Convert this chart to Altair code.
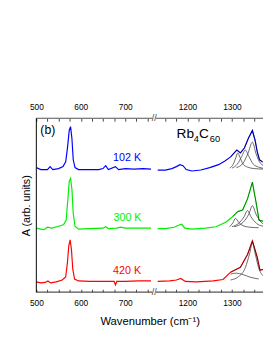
import altair as alt
import pandas as pd

# ---------------- data ----------------
# wavenumbers (cm^-1) and absorbance (arb. units, vertical offsets included)
blue_l_w = [500, 510, 525, 531, 537, 550, 560, 566, 570, 574, 577, 580, 583, 587, 595, 620, 640, 650, 656, 662, 678, 685, 700, 720, 740, 758]
blue_l_a = [127.5, 125.5, 125.5, 128.5, 125.5, 126.5, 128.5, 133.5, 147.5, 165.5, 169.5, 157.5, 135.5, 127.5, 125.5, 125.5, 125.5, 126.5, 129.5, 125.5, 128.5, 125.5, 126.5, 126, 126.5, 126]
blue_r_w = [1133, 1150, 1165, 1175, 1183, 1190, 1197, 1210, 1230, 1250, 1270, 1285, 1297, 1305, 1311, 1319, 1328, 1337, 1346, 1352, 1357, 1362, 1368, 1375, 1390, 1405]
blue_r_a = [125, 125, 126.5, 128.5, 130.5, 129.5, 125.5, 124, 125, 127.5, 130.5, 134.5, 138.5, 142.5, 145.5, 142.5, 147.5, 157.5, 165.5, 155.5, 143.5, 135.5, 133.5, 133, 131.5, 130.5]

green_l_w = [500, 510, 517, 525, 535, 550, 561, 567, 571, 574, 577, 580, 583, 587, 595, 620, 650, 656, 662, 680, 690, 700, 730, 758]
green_l_a = [65.5, 64.5, 64, 66.5, 65.5, 67.5, 69, 73.5, 95.5, 113.5, 116.5, 105.5, 80.5, 67.5, 64.5, 65, 65.5, 67, 65, 65.5, 66.5, 65.5, 65.5, 65.5]
green_r_w = [1133, 1150, 1170, 1180, 1187, 1194, 1210, 1240, 1264, 1286, 1302, 1313, 1324, 1335, 1346, 1354, 1361, 1372, 1390, 1405]
green_r_a = [65, 65, 66.5, 68.5, 69.5, 65.5, 64.5, 65.5, 67, 71.5, 77.5, 82.5, 84, 95.5, 112.5, 92.5, 73.5, 72.5, 70.5, 69.5]

red_l_w = [500, 510, 520, 526, 532, 545, 558, 566, 570, 573, 576, 579, 582, 586, 595, 620, 650, 675, 678, 681, 700, 730, 758]
red_l_a = [10.5, 9.5, 10, 11.5, 9.5, 10.5, 12.5, 15.5, 30.5, 47.5, 53.5, 43.5, 23.5, 13.5, 11.5, 11, 11, 11, 7.5, 11, 11, 11.5, 11.5]
red_r_w = [1133, 1160, 1175, 1185, 1195, 1220, 1258, 1280, 1297, 1319, 1335, 1346, 1357, 1363, 1372, 1390, 1405]
red_r_a = [11, 11.5, 12.5, 14, 11, 10.5, 11.5, 13, 20.5, 25.5, 38.5, 52.5, 35.5, 22.5, 23.5, 20.5, 18.5]

# fitted components (thin dark lines)
comp = {
    "b1": ([1295, 1303, 1309, 1313, 1318, 1325, 1335, 1350, 1370], [127, 131, 138, 142.5, 138, 131, 128, 126.5, 126]),
    "b2": ([1300, 1312, 1322, 1330, 1338, 1348, 1360, 1375], [127, 131, 139, 145.5, 139, 131, 128, 126.5]),
    "b3": ([1310, 1325, 1336, 1346, 1354, 1364, 1380], [127.5, 132, 142, 153.5, 142, 132, 128]),
    "g1": ([1295, 1302, 1308, 1315, 1325, 1340, 1360], [67, 71, 75.5, 71.5, 68, 66.5, 66]),
    "g2": ([1300, 1315, 1327, 1335, 1343, 1355, 1370], [67, 70.5, 77, 83.5, 77, 70.5, 67.5]),
    "g3": ([1305, 1325, 1338, 1346, 1354, 1366, 1380], [67, 71.5, 80, 88.5, 80, 71.5, 68]),
    "r1": ([1297, 1310, 1325, 1340, 1360], [18.5, 19.5, 18, 15.5, 13.5]),
    "r2": ([1297, 1315, 1330, 1340, 1346, 1352, 1360, 1372], [12.5, 16, 25, 40, 50.5, 40, 25, 16]),
}

temps = ["102 K", "300 K", "420 K"]
colors = ["#0000FF", "#00EE00", "#FF0000"]
label_w = [704, 705, 704]
label_a = [137.5, 75.5, 22]

major_ticks = [500, 600, 700, 1200, 1300]
minor_ticks = [525, 550, 575, 625, 650, 675, 725, 750, 1150, 1175, 1225, 1250, 1275, 1325, 1350]

# ---------------- broken axis mapping ----------------
BREAK_LO, BREAK_HI, GAP = 760, 1130, 10
SHIFT = BREAK_HI - BREAK_LO - GAP  # 360


def to_p(w):
    return w if w <= BREAK_LO else w - SHIFT


rows = []
series = [
    ("102 K", blue_l_w, blue_l_a, blue_r_w, blue_r_a),
    ("300 K", green_l_w, green_l_a, green_r_w, green_r_a),
    ("420 K", red_l_w, red_l_a, red_r_w, red_r_a),
]
for t, lw, la, rw, ra in series:
    for w, a in zip(lw, la):
        rows.append({"p": to_p(w), "a": a, "T": t, "g": t + "L", "w": w})
    for w, a in zip(rw, ra):
        rows.append({"p": to_p(w), "a": a, "T": t, "g": t + "R", "w": w})
df = pd.DataFrame(rows)

crow = []
for k, (ws, As) in comp.items():
    for w, a in zip(ws, As):
        crow.append({"p": to_p(w), "a": a, "c": k})
dfc = pd.DataFrame(crow)

dfl = pd.DataFrame({"p": [to_p(w) for w in label_w], "a": label_a, "T": temps})

# plot area: left edge at page x 39.5, right edge at the window edge
W, H = 232, 178
PX_PER_UNIT = 0.455
XMAX = 500 + W / PX_PER_UNIT
FONT = "Liberation Sans"

tick_vals = sorted(to_p(v) for v in major_ticks + minor_ticks)
major_p = [to_p(v) for v in major_ticks]
label_expr = (
    "indexof(" + str(major_p) + ", datum.value) >= 0 ? "
    "(datum.value > " + str(BREAK_LO) + " ? format(datum.value + " + str(SHIFT) + ", 'd') : format(datum.value, 'd')) : ''"
)

xscale = alt.Scale(domain=[500, XMAX], nice=False, zero=False)
yscale = alt.Scale(domain=[0, H], nice=False, zero=False)
cscale = alt.Scale(domain=temps, range=colors)


def xaxis(orient, title):
    kw = dict(
        orient=orient, values=tick_vals, labelExpr=label_expr, tickSize=3, offset=-3,
        domain=False, grid=False, labelPadding=7, labelFontSize=8.5, labelFont=FONT,
        labelColor="black", tickColor="#444", labelOverlap=False, labelFlush=False,
    )
    if title:
        kw.update(title=title, titleFont=FONT, titleFontSize=11.5, titleFontWeight="normal",
                  titlePadding=9, titleColor="black")
    else:
        kw.update(title=None)
    return alt.Axis(**kw)


traces = alt.Chart(df).mark_line(strokeWidth=1.2, clip=True).encode(
    x=alt.X("p:Q", scale=xscale, axis=xaxis("bottom", "Wavenumber (cm\u207b\u00b9)")),
    y=alt.Y("a:Q", scale=yscale, axis=alt.Axis(title="A (arb. units)", labels=False, ticks=False,
                                                domain=False, grid=False, titleFont=FONT,
                                                titleFontSize=11, titleFontWeight="normal",
                                                titlePadding=5, titleColor="black")),
    color=alt.Color("T:N", scale=cscale, legend=None),
    detail="g:N",
)

comps = alt.Chart(dfc).mark_line(strokeWidth=0.8, color="#444", interpolate="monotone", clip=True).encode(
    x=alt.X("p:Q", scale=xscale, axis=None),
    y=alt.Y("a:Q", scale=yscale, axis=None),
    detail="c:N",
)

sums = alt.Chart(df).transform_filter("datum.w >= 1297 && datum.w <= 1372").mark_line(
    strokeWidth=0.8, color="black", opacity=0.55, clip=True
).encode(
    x=alt.X("p:Q", scale=xscale, axis=xaxis("top", None)),
    y=alt.Y("a:Q", scale=yscale, axis=None),
    detail="g:N",
)

labels = alt.Chart(dfl).mark_text(fontSize=11, font=FONT, align="center", baseline="middle").encode(
    x=alt.X("p:Q", scale=xscale, axis=None),
    y=alt.Y("a:Q", scale=yscale, axis=None),
    text="T:N",
    color=alt.Color("T:N", scale=cscale, legend=None),
)

# annotation texts: (b) and Rb4C60 with subscripts
ann = pd.DataFrame({
    "p": [509, 815.4, 853.8, 865.9, 890.1],
    "a": [165.5, 158, 153.5, 158, 153.5],
    "t": ["(b)", "Rb", "4", "C", "60"],
    "s": [12.5, 14, 9.5, 14, 9.5],
})
annot_b = alt.Chart(ann.iloc[[0]]).mark_text(font=FONT, align="left", baseline="middle", color="black", fontSize=12.5).encode(
    x=alt.X("p:Q", scale=xscale, axis=None),
    y=alt.Y("a:Q", scale=yscale, axis=None),
    text="t:N",
)
annot_rb = alt.Chart(ann.iloc[1:]).mark_text(font=FONT, align="left", baseline="alphabetic", color="black").encode(
    x=alt.X("p:Q", scale=xscale, axis=None),
    y=alt.Y("a:Q", scale=yscale, axis=None),
    text="t:N",
    size=alt.Size("s:Q", scale=None, legend=None),
)

one = pd.DataFrame({"k": [0]})
frame_top = alt.Chart(one).mark_rule(color="#555", strokeWidth=1.2).encode(
    x=alt.value(0), x2=alt.value(W), y=alt.value(0))
frame_bot = alt.Chart(one).mark_rule(color="#555", strokeWidth=1.2).encode(
    x=alt.value(0), x2=alt.value(W), y=alt.value(H))
frame_left = alt.Chart(one).mark_rule(color="black", strokeWidth=1).encode(
    x=alt.value(0), y=alt.value(0), y2=alt.value(H))

brk = pd.DataFrame({"p0": [to_p(BREAK_LO) + 1], "p1": [to_p(BREAK_LO) + GAP - 1], "pc": [BREAK_LO + GAP / 2]})
mask_top = alt.Chart(brk).mark_rect(color="white").encode(
    x=alt.X("p0:Q", scale=xscale, axis=None), x2="p1:Q", y=alt.value(-3), y2=alt.value(3))
mask_bot = alt.Chart(brk).mark_rect(color="white").encode(
    x=alt.X("p0:Q", scale=xscale, axis=None), x2="p1:Q", y=alt.value(H - 3), y2=alt.value(H + 3))
sl_top = alt.Chart(brk).mark_text(text="//", fontSize=9, font=FONT, color="#333", baseline="middle").encode(
    x=alt.X("pc:Q", scale=xscale, axis=None), y=alt.value(0))
sl_bot = alt.Chart(brk).mark_text(text="//", fontSize=9, font=FONT, color="#333", baseline="middle").encode(
    x=alt.X("pc:Q", scale=xscale, axis=None), y=alt.value(H))

chart = alt.layer(
    traces, comps, sums, labels, annot_b, annot_rb,
    frame_top, frame_bot, frame_left, mask_top, mask_bot, sl_top, sl_bot,
).resolve_axis(x="independent", y="independent").properties(
    width=W, height=H,
    padding={"left": 13, "top": 93, "right": 0, "bottom": 5},
).configure_view(stroke=None)

chart.save("out.html", embed_options={"renderer": "svg", "actions": False})
